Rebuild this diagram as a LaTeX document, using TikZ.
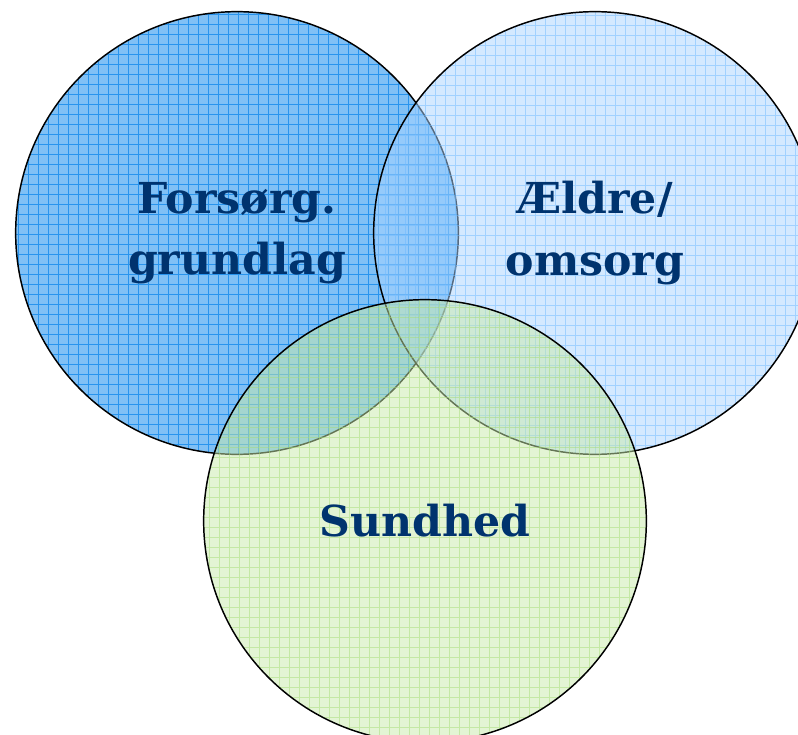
\documentclass[tikz,border=0pt]{standalone}
\usepackage{fontspec}
\setmainfont{DejaVu Serif}
\usetikzlibrary{positioning}
\definecolor{textblue}{RGB}{0,51,110}
\definecolor{leftfill}{RGB}{128,192,245}
\definecolor{leftgrid}{RGB}{40,148,238}
\definecolor{rightfill}{RGB}{170,212,255}
\definecolor{rightgrid}{RGB}{110,185,255}
\definecolor{downfill}{RGB}{200,234,170}
\definecolor{downgrid}{RGB}{165,220,120}

\begin{document}
\begin{tikzpicture}[x=0.75pt,y=-0.75pt,
    venn/.style={circle,draw=black,line width=1.1pt,inner sep=0pt,
      minimum size=332pt,align=center,text=textblue,
      font=\fontsize{32}{46}\selectfont\bfseries},
    gridded/.style={path picture={
      \draw[#1,line width=0.55pt,step=7.5pt]
        (path picture bounding box.south west) grid
        (path picture bounding box.north east);}}
  ]
  \useasboundingbox (0,0) rectangle (798,734);

  % the three sets
  \node[venn,fill=leftfill,gridded=leftgrid] (forsorg) at (237,233)
    {Forsørg.\\grundlag};
  \node[venn,fill=rightfill,fill opacity=0.5,text opacity=1,
    gridded={rightgrid,draw opacity=0.5}] (aeldre) at (595,233)
    {Ældre/\\omsorg};
  \node[venn,fill=downfill,fill opacity=0.5,text opacity=1,
    gridded={downgrid,draw opacity=0.5}] (sundhed) at (425,521)
    {Sundhed};
\end{tikzpicture}
\end{document}
